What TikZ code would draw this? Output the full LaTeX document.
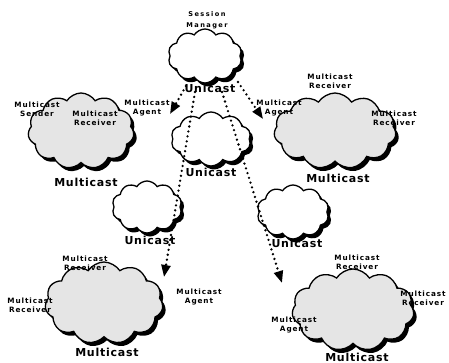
\documentclass[tikz,border=0pt]{standalone}
\usepackage{fontspec}
\setmainfont{DejaVu Sans}
\usetikzlibrary{shapes.symbols,shadows,arrows.meta}
\newfontfamily\smallfam[LetterSpace=12]{DejaVu Sans}
\newfontfamily\bigfam[LetterSpace=7]{DejaVu Sans}
\newfontfamily\smfam[LetterSpace=22]{DejaVu Sans}
\begin{document}
\begin{tikzpicture}[x=1pt,y=-1pt,
  cloudbox/.style={cloud, cloud puffs=10, cloud puff arc=115, cloud ignores aspect, draw=black, line width=1.3pt, fill=white, inner sep=0pt,
     drop shadow={shadow xshift=3pt, shadow yshift=-3.5pt, opacity=1, fill=black}},
  mcloud/.style={cloudbox, cloud puffs=11, fill=gray!20},
  small/.style={font=\smallfam\bfseries\fontsize{7.3}{8.6}\selectfont, align=center, inner sep=0pt},
  tiny/.style={font=\smfam\bfseries\fontsize{6.6}{10.5}\selectfont, align=center, inner sep=0pt},
  big/.style={font=\bigfam\bfseries\fontsize{11}{13}\selectfont, inner sep=0pt},
  dotarrow/.style={line width=2.6pt, line cap=round, dash pattern=on 0pt off 5pt, -{Triangle[length=12pt,width=9pt]}}]
\useasboundingbox (0,0) rectangle (449,363);

% clouds
\node[cloudbox, minimum width=74pt, minimum height=54pt] (sm) at (205,56) {};
\node[cloudbox, minimum width=80pt, minimum height=54pt] (u1) at (211,139) {};
\node[cloudbox, minimum width=70pt, minimum height=52pt] (u2) at (147,207) {};
\node[cloudbox, minimum width=72pt, minimum height=54pt] (u3) at (293,212) {};
\node[mcloud, minimum width=106pt, minimum height=76pt] (m1) at (81,131) {};
\node[mcloud, minimum width=122pt, minimum height=76pt] (m2) at (335,131) {};
\node[mcloud, minimum width=118pt, minimum height=82pt] (m3) at (104,303) {};
\node[mcloud, minimum width=122pt, minimum height=82pt] (m4) at (353,310) {};

% connectors
\coordinate (s1) at (186,86);
\coordinate (s2) at (195,92);
\coordinate (s3) at (222,92);
\coordinate (s4) at (238,82);
\coordinate (e1) at (170,114);
\coordinate (e2) at (164,277);
\coordinate (e3) at (282,283);
\coordinate (e4) at (263,119);
\draw[dotarrow] (s1) -- (e1);
\draw[dotarrow] (s2) -- (e2);
\draw[dotarrow] (s3) -- (e3);
\draw[dotarrow] (s4) -- (e4);

% labels
\node[tiny] (lsm) at (207,20) {Session\\Manager};
\node[big] (lu0) at (210,88) {Unicast};
\node[big] (lu1) at (211,172) {Unicast};
\node[big] (lu2) at (150,240) {Unicast};
\node[big] (lu3) at (297,243) {Unicast};

\node[small] (ls1) at (37,109) {Multicast\\Sender};
\node[small] (lr1) at (95,118) {Multicast\\Receiver};
\node[small] (la1) at (147,108) {Multicast\\Agent};
\node[big] (lm1) at (86,182) {Multicast};

\node[small] (lr2a) at (330,81) {Multicast\\Receiver};
\node[small] (lr2b) at (394,118) {Multicast\\Receiver};
\node[small] (la2) at (279,108) {Multicast\\Agent};
\node[big] (lm2) at (338,178) {Multicast};

\node[small] (lr3a) at (85,263) {Multicast\\Receiver};
\node[small] (lr3b) at (30,305) {Multicast\\Receiver};
\node[small] (la3) at (199,297) {Multicast\\Agent};
\node[big] (lm3) at (107,352) {Multicast};

\node[small] (lr4a) at (357,262) {Multicast\\Receiver};
\node[small] (lr4b) at (423,298) {Multicast\\Receiver};
\node[small] (la4) at (294,325) {Multicast\\Agent};
\node[big] (lm4) at (357,357) {Multicast};
\end{tikzpicture}
\end{document}
